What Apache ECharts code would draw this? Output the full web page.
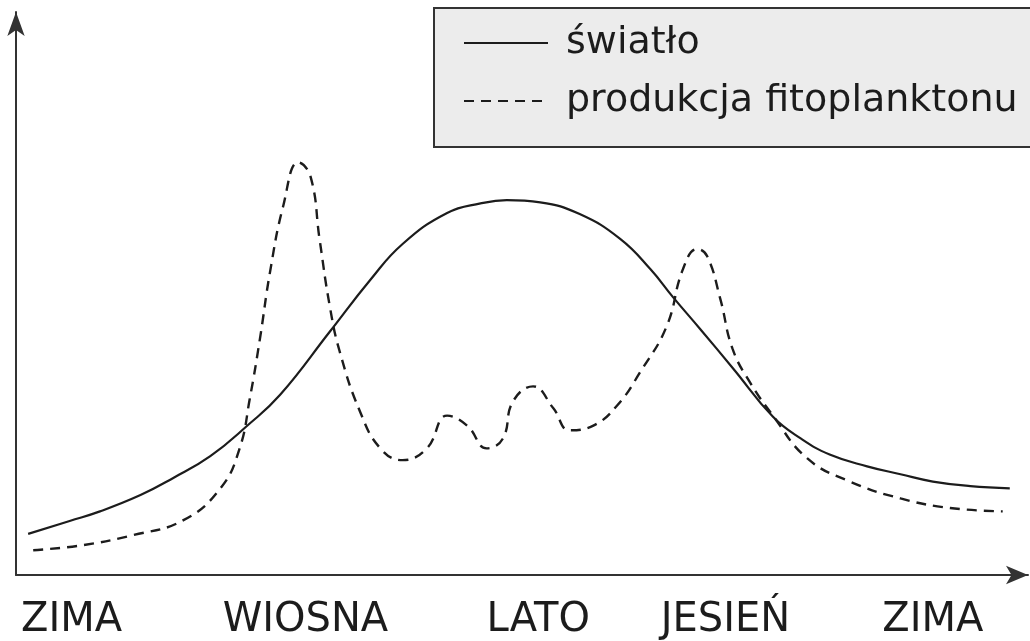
<!DOCTYPE html>
<html>
<head>
<meta charset="utf-8">
<script src="https://cdn.jsdelivr.net/npm/echarts@6/dist/echarts.min.js"></script>
<style>
  html, body { margin: 0; padding: 0; background: #fff; }
  #chart { width: 1030px; height: 641px; }
</style>
</head>
<body>
<div id="chart"></div>
<script>
// Annual cycle: light vs. phytoplankton production (relative units, 0-100 over the year)
const seasonNames = ['ZIMA', 'WIOSNA', 'LATO', 'JESIEŃ', 'ZIMA'];
const seasonAt = [5.5, 28.6, 51.6, 70.1, 90.6];

const lightX = [1.2, 5.3, 8.3, 12.3, 15.5, 19.2, 22.9, 26.1, 31.0, 35.0, 38.2, 42.6, 45.9, 48.5, 51.8, 55.7, 59.7, 62.7, 64.9, 67.6, 70.9, 74.8, 77.5, 80.4, 84.1, 87.4, 90.6, 94.3, 98.2];
const lightY = [7.3, 9.6, 11.3, 14.2, 17.2, 21.1, 26.6, 32.0, 43.2, 52.4, 58.8, 64.3, 66.0, 66.6, 66.2, 64.1, 59.7, 54.3, 49.4, 43.7, 36.6, 28.1, 24.3, 21.4, 19.3, 17.9, 16.6, 15.8, 15.4];

const phytoX = [1.7, 6.6, 11.6, 16.5, 20.2, 22.1, 23.1, 24.1, 25.1, 26.4, 27.9, 29.1, 30.0, 31.0, 32.0, 34.0, 36.0, 38.2, 40.6, 42.6, 44.6, 46.5, 48.1, 49.1, 51.1, 53.1, 54.7, 57.0, 59.4, 61.7, 64.3, 65.9, 67.3, 68.3, 69.6, 70.8, 72.5, 74.8, 78.2, 82.4, 87.4, 92.3, 97.5];
const phytoY = [4.4, 5.3, 7.1, 9.7, 15.4, 22.5, 31.3, 41.9, 53.8, 65.5, 73.3, 70.8, 59.6, 47.8, 39.6, 29.0, 22.5, 20.4, 22.5, 28.3, 26.5, 22.5, 24.2, 30.8, 33.5, 29.6, 25.7, 26.5, 30.1, 36.1, 44.2, 54.3, 57.9, 56.6, 49.0, 40.2, 34.3, 28.3, 20.7, 16.6, 13.6, 11.9, 11.3];

const pairs = (xs, ys) => xs.map((x, i) => [x, ys[i]]);

const font = 'DejaVu Sans, sans-serif';
const ink = '#1c1c1c';

const chart = echarts.init(document.getElementById('chart'), null, { renderer: 'canvas' });
chart.setOption({
  animation: false,
  backgroundColor: '#ffffff',
  grid: { left: 16, right: 2, top: 12, bottom: 64, containLabel: false },
  legend: {
    orient: 'vertical',
    left: 434,
    top: 8,
    backgroundColor: '#ececec',
    borderColor: '#333',
    borderWidth: 2,
    borderRadius: 0,
    padding: [6, 30, 17, 29],
    itemGap: 0,
    itemWidth: 84,
    itemHeight: 20,
    itemStyle: { opacity: 0 },
    textStyle: { fontFamily: font, fontSize: 38, color: ink, lineHeight: 44, padding: [14, 0, 0, 13] },
    data: ['światło', 'produkcja fitoplanktonu']
  },
  xAxis: {
    type: 'value',
    min: 0,
    max: 100,
    axisLine: {
      show: true,
      symbol: ['none', 'arrow'],
      symbolSize: [14, 22],
      lineStyle: { color: '#333', width: 2 }
    },
    axisTick: { show: false },
    splitLine: { show: false },
    axisLabel: {
      customValues: seasonAt,
      formatter: (v) => seasonNames[seasonAt.indexOf(v)],
      fontFamily: font,
      fontSize: 40,
      color: ink,
      margin: 26
    }
  },
  yAxis: {
    type: 'value',
    min: 0,
    max: 100,
    axisLine: {
      show: true,
      symbol: ['none', 'arrow'],
      symbolSize: [13, 24],
      lineStyle: { color: '#333', width: 2 }
    },
    axisTick: { show: false },
    axisLabel: { show: false },
    splitLine: { show: false }
  },
  series: [
    {
      name: 'światło',
      type: 'line',
      data: pairs(lightX, lightY),
      smooth: 0.45,
      symbol: 'none',
      lineStyle: { color: ink, width: 2.2, type: 'solid' },
      itemStyle: { color: ink }
    },
    {
      name: 'produkcja fitoplanktonu',
      type: 'line',
      data: pairs(phytoX, phytoY),
      smooth: 0.45,
      symbol: 'none',
      lineStyle: { color: ink, width: 2.4, type: [10, 7] },
      itemStyle: { color: ink }
    }
  ]
});
</script>
</body>
</html>
